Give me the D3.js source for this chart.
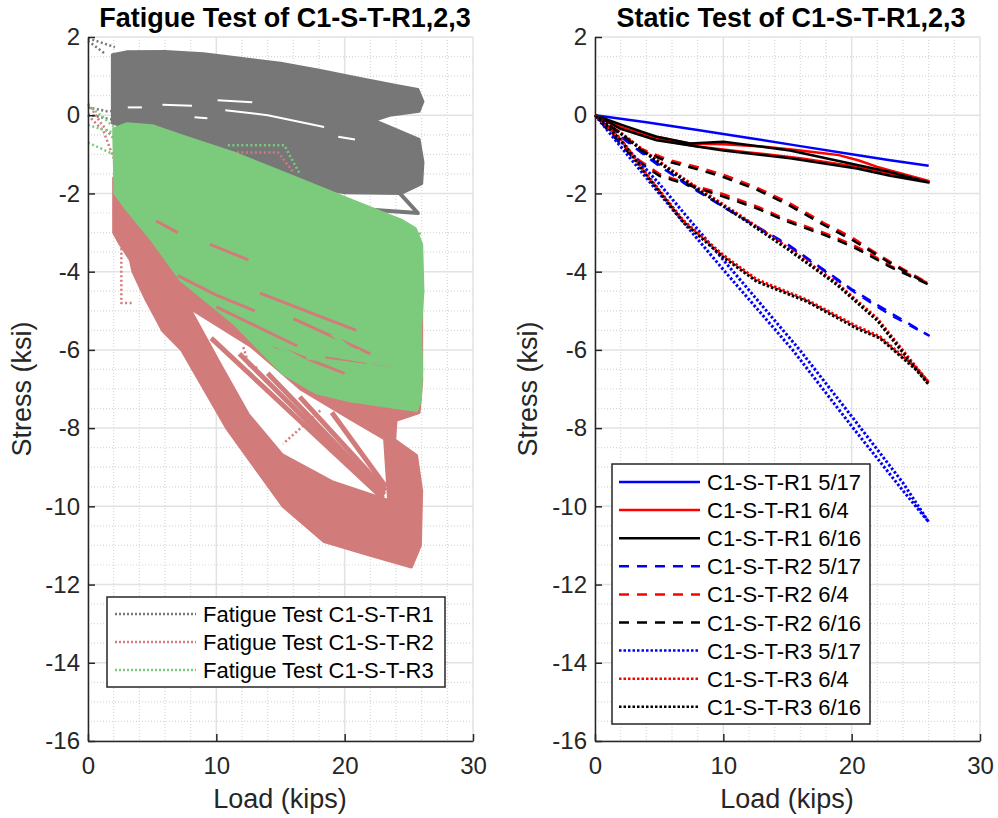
<!DOCTYPE html>
<html>
<head>
<meta charset="utf-8">
<script src="https://cdn.jsdelivr.net/npm/d3@7"></script>
<style>
  body { margin: 0; background: #fff; }
  text { font-family: "Liberation Sans", Arial, sans-serif; fill: #262626; }
</style>
</head>
<body>
<div id="chart"></div>
<script>

// tick values
var loadTicks = [0, 10, 20, 30];
var stressTicks = [2, 0, -2, -4, -6, -8, -10, -12, -14, -16];

// ---- fatigue test (left), envelopes of the dense cycle traces, [load, stress]
var r1Band = [[1.9,1.55],[3,1.62],[6,1.63],[9,1.57],[12,1.45],[15,1.33],[18,1.15],[21,0.95],[24,0.76],[25.7,0.66],
  [26.1,0.35],[25.8,0.1],[23.5,0.0],[22.3,-0.13],[23.5,-0.3],[25.8,-0.62],[26.1,-1.2],[26,-1.75],[24.4,-2.0],
  [20,-1.98],[16,-1.75],[12,-1.3],[8,-0.8],[4,-0.4],[1.9,-0.2],[1.9,0.2]];
var r1Tail = [[17.9,-2.32],[25.7,-2.5],[24.3,-2.0]];
var r1Streaks = [
  [[3.1,0.2],[4.2,0.2]],
  [[5.8,0.27],[8.1,0.24]],
  [[8.3,-0.05],[9.3,-0.08]],
  [[10.1,0.38],[12.8,0.33]],
  [[10.7,0.13],[14,0.0],[18.4,-0.3]],
  [[19.5,-0.55],[20.8,-0.62]]
];
var r1Strays = [
  [[0,1.97],[2.1,1.74]],
  [[0,1.9],[1.3,1.58]],
  [[0,0.2],[1.5,0.1],[3.1,0.13]],
  [[0,0.02],[2,-0.12]]
];

var r2Band = [[2,-1.6],[8,-2.2],[15,-3.0],[22,-3.8],[26,-4.3],[26,-6.8],[25.8,-7.6],[24,-7.8],[23.9,-8.3],[25.6,-8.7],
  [26,-9.6],[25.9,-11.0],[25.2,-11.55],[22,-11.25],[18.4,-10.9],[15.2,-10.0],[10.8,-8.0],[7.3,-6.0],[5.8,-5.5],
  [4.5,-4.7],[3.5,-4.0],[3.3,-3.7],[2.5,-3.3],[2,-3.0]];
var r2Gaps = [
  [[8.2,-5.03],[12.6,-5.93],[16.5,-7.03],[20.4,-7.8],[23,-8.3],[23.3,-9.8],[19.1,-9.34],[15.2,-8.65],[12.6,-7.63],[10.4,-6.35]],
  [[15.2,-5.6],[17.8,-6.0],[16.5,-6.15]]
];
var r2Lines = [
  [[9.6,-5.7],[23,-9.8]],
  [[11.8,-6.1],[23,-9.75]],
  [[14,-6.6],[23.1,-9.7]],
  [[16.5,-7.2],[23.2,-9.6]],
  [[19,-7.6],[23.2,-9.5]]
];
var r2Streaks = [
  [[5.3,-2.7],[7,-3.0]],
  [[9.5,-3.3],[12.5,-3.7]],
  [[7,-4.1],[10,-4.6],[13,-5.0]],
  [[10,-4.9],[16.3,-5.9]],
  [[13.4,-4.55],[20.9,-5.5]],
  [[16,-5.2],[22,-6.1]],
  [[18.5,-6.2],[24,-6.5]],
  [[14.5,-5.9],[20,-6.6]]
];
var r2Strays = [
  [[2.6,-3.4],[2.6,-4.8],[3.5,-4.8]],
  [[12.1,-5.93],[12.6,-6.45],[13.4,-6.45]],
  [[18.1,-7.55],[15.2,-8.4]],
  [[0,0.3],[1,-0.2],[2,-0.6]],
  [[0,0.0],[1.2,-0.4],[2,-1.1]],
  [[10.9,-0.95],[14.8,-0.95],[16,-1.45]]
];

var r3Band = [[2.0,-0.35],[3,-0.22],[5,-0.27],[7.5,-0.55],[11.4,-0.97],[15.3,-1.48],[20.5,-2.17],[24.4,-2.68],
  [25.5,-2.9],[26,-3.3],[26.1,-4.5],[25.9,-5.5],[26,-6.5],[25.9,-7.3],[25.6,-7.55],[20.4,-7.3],[17.8,-7.1],
  [15.2,-6.6],[11.3,-5.3],[7.2,-4.2],[5,-3.2],[3,-2.4],[2.1,-2.0]];
var r3Lines = [
  [[13,-5.6],[20.4,-6.9],[25.6,-7.5]],
  [[17,-6.2],[24,-6.5],[25.6,-7.5]],
  [[15,-6.3],[25.5,-7.4]],
  [[21,-6.0],[24.5,-7.3]],
  [[19,-5.6],[25.6,-7.3]]
];
var r3Strays = [
  [[0,0.25],[1,0.0],[2,-0.3]],
  [[0,-0.7],[1,-0.85],[2,-1.0]],
  [[0,-0.25],[2,-0.45]],
  [[10.9,-0.77],[15.3,-0.77],[16.5,-1.5]],
  [[23.1,-2.77],[25.4,-2.95],[26,-3.05]]
];

var fatigueNames = ["Fatigue Test C1-S-T-R1", "Fatigue Test C1-S-T-R2", "Fatigue Test C1-S-T-R3"];
var fatigueColors = ["#777777", "#d27b7b", "#7ccb7c"];

// ---- static test (right), loading then unloading branch
var r1_0517 = [[0,0],[4,-0.18],[8,-0.38],[12,-0.58],[16,-0.79],[20,-1.0],[23,-1.15],[26,-1.29]];
var r1_0604 = [[0,0],[1,-0.15],[2.2,-0.34],[4.8,-0.55],[7.4,-0.72],[10,-0.74],[13,-0.8],[15.5,-0.88],[17.8,-0.97],
  [19,-1.02],[20.5,-1.15],[22,-1.32],[24,-1.5],[26,-1.68],[23,-1.5],[20,-1.3],[16,-1.1],[12,-0.95],[8,-0.8],[4.8,-0.62],[2,-0.3],[0,0]];
var r1_0616 = [[0,0],[2.2,-0.26],[4.8,-0.55],[7.4,-0.72],[10,-0.68],[15.2,-0.9],[19.8,-1.23],[23,-1.45],[26,-1.72],
  [23,-1.55],[20.4,-1.36],[15.2,-1.1],[10,-0.9],[4.8,-0.64],[2,-0.35],[0,0]];
var r2_0517 = [[0,0],[1.5,-0.4],[3.5,-0.9],[7,-1.75],[10.5,-2.43],[15.2,-3.37],[20.4,-4.56],[23,-5.1],[26,-5.63],
  [23,-5.05],[20,-4.45],[15,-3.3],[10,-2.35],[5,-1.3],[2,-0.55],[0,0]];
var r2_0604 = [[0,0],[2,-0.45],[3.5,-0.85],[5.6,-1.13],[8,-1.33],[10,-1.52],[12.6,-1.85],[15,-2.22],[17.8,-2.75],
  [20,-3.12],[21.2,-3.38],[23,-3.75],[26,-4.3],[23,-3.85],[21.2,-3.5],[20,-3.3],[17.8,-3.0],[15,-2.68],[12.6,-2.33],
  [10,-2.02],[7.4,-1.77],[5,-1.5],[3,-1.05],[1,-0.35],[0,0]];
var r2_0616 = [[0,0],[2,-0.47],[3.5,-0.88],[5.6,-1.18],[8,-1.38],[10,-1.58],[12.6,-1.9],[15,-2.28],[17.8,-2.8],
  [20,-3.18],[21.2,-3.42],[23,-3.78],[26,-4.33],[23,-3.88],[21.2,-3.55],[20,-3.35],[17.8,-3.05],[15,-2.72],[12.6,-2.38],
  [10,-2.08],[7.4,-1.8],[5,-1.55],[3,-1.1],[1,-0.38],[0,0]];
var r3_0517 = [[0,0],[5,-2.0],[10,-3.95],[15.4,-6.0],[20,-7.95],[24,-9.6],[26,-10.4],
  [24,-9.4],[20,-7.7],[15.95,-6.0],[10,-3.7],[5,-1.75],[1,-0.3],[0,0]];
var r3_0604 = [[0,0],[2,-0.45],[4,-0.95],[7.4,-1.73],[11.8,-2.67],[15,-3.38],[18.8,-4.28],[22,-5.2],[25,-6.43],[26,-6.83],
  [25,-6.45],[22.2,-5.66],[20.4,-5.4],[16.5,-4.72],[12.6,-4.2],[10,-3.58],[6.85,-2.68],[4,-1.5],[2,-0.6],[0,0]];
var r3_0616 = [[0,0],[2,-0.47],[4,-0.98],[7.4,-1.77],[11.8,-2.71],[15,-3.42],[18.8,-4.32],[22,-5.25],[25,-6.48],[26,-6.88],
  [25,-6.5],[22.2,-5.7],[20.4,-5.45],[16.5,-4.76],[12.6,-4.25],[10,-3.63],[6.85,-2.72],[4,-1.53],[2,-0.63],[0,0]];

var staticNames = ["C1-S-T-R1 5/17", "C1-S-T-R1 6/4", "C1-S-T-R1 6/16",
                   "C1-S-T-R2 5/17", "C1-S-T-R2 6/4", "C1-S-T-R2 6/16",
                   "C1-S-T-R3 5/17", "C1-S-T-R3 6/4", "C1-S-T-R3 6/16"];
var staticData = [r1_0517, r1_0604, r1_0616, r2_0517, r2_0604, r2_0616, r3_0517, r3_0604, r3_0616];
var staticColors = ["#0000ff", "#ff0000", "#000000"];
var staticDash = [null, "10,8", "2.5,2"];
var staticWidth = [2.5, 2.5, 3];


var W = 998, H = 818;
var svg = d3.select("#chart").append("svg")
  .attr("width", W).attr("height", H);

var y = d3.scaleLinear().domain([-16, 2]).range([741, 37]);
var xL = d3.scaleLinear().domain([0, 30]).range([88, 473]);
var xR = d3.scaleLinear().domain([0, 30]).range([595, 980]);

// grid + titles for one panel
function drawFrame(x, title, titleX, ylabX, xlabX) {
  var g = svg.append("g");
  var minorX = d3.range(0, 30.01, 2).filter(function(v) { return v % 10 != 0; });
  var minorY = d3.range(-16, 2.01, 0.5).filter(function(v) { return v % 2 != 0; });

  g.selectAll(".mx").data(minorX).enter().append("line")
    .attr("x1", function(d) { return x(d); }).attr("x2", function(d) { return x(d); })
    .attr("y1", y(2)).attr("y2", y(-16))
    .attr("stroke", "#d8d8d8").attr("stroke-width", 1.2).attr("stroke-dasharray", "1,2");
  g.selectAll(".my").data(minorY).enter().append("line")
    .attr("y1", function(d) { return y(d); }).attr("y2", function(d) { return y(d); })
    .attr("x1", x(0)).attr("x2", x(30))
    .attr("stroke", "#d8d8d8").attr("stroke-width", 1.2).attr("stroke-dasharray", "1,2");
  g.selectAll(".gx").data(loadTicks).enter().append("line")
    .attr("x1", function(d) { return x(d); }).attr("x2", function(d) { return x(d); })
    .attr("y1", y(2)).attr("y2", y(-16))
    .attr("stroke", "#e2e2e2").attr("stroke-width", 1.5);
  g.selectAll(".gy").data(stressTicks).enter().append("line")
    .attr("y1", function(d) { return y(d); }).attr("y2", function(d) { return y(d); })
    .attr("x1", x(0)).attr("x2", x(30))
    .attr("stroke", "#e2e2e2").attr("stroke-width", 1.5);

  svg.append("text").attr("x", titleX).attr("y", 27).attr("text-anchor", "middle")
    .style("font-size", "27px").style("font-weight", "bold").style("fill", "#000").text(title);
  svg.append("text").attr("x", xlabX).attr("y", 808).attr("text-anchor", "middle")
    .style("font-size", "27px").text("Load (kips)");
  svg.append("text").attr("transform", "translate(" + ylabX + "," + y(-7) + ") rotate(-90)")
    .attr("text-anchor", "middle").style("font-size", "27px").text("Stress (ksi)");
  return g;
}

function drawAxes(x) {
  var ax = svg.append("g").attr("transform", "translate(0," + y(-16) + ")")
    .call(d3.axisBottom(x).tickValues(loadTicks).tickSizeInner(-7).tickSizeOuter(0).tickPadding(16)
      .tickFormat(function(d) { return String(d); }));
  var ay = svg.append("g").attr("transform", "translate(" + x(0) + ",0)")
    .call(d3.axisLeft(y).tickValues(stressTicks).tickSizeInner(-7).tickSizeOuter(0).tickPadding(8)
      .tickFormat(function(d) { return String(d); }));
  [ax, ay].forEach(function(a) {
    a.select(".domain").attr("stroke", "#262626").attr("stroke-width", 1.5);
    a.selectAll(".tick line").attr("stroke", "#262626").attr("stroke-width", 1.5);
    a.selectAll(".tick text").style("font-size", "24px").style("font-family", "'Liberation Sans', Arial, sans-serif")
      .attr("fill", "#262626");
  });
}

// ---------- left panel
drawFrame(xL, "Fatigue Test of C1-S-T-R1,2,3", 285, 31, 280);
var lineL = d3.line().x(function(d) { return xL(d[0]); }).y(function(d) { return y(d[1]); });
var pl = svg.append("g");

function band(pts, color) {
  pl.append("path").attr("d", lineL(pts) + "Z")
    .attr("fill", color).attr("stroke", color).attr("stroke-width", 3).attr("stroke-linejoin", "round");
}
function traces(list, color, width, dash) {
  pl.selectAll(null).data(list).enter().append("path")
    .attr("d", function(d) { return lineL(d); })
    .attr("fill", "none").attr("stroke", color).attr("stroke-width", width)
    .attr("stroke-dasharray", dash).attr("stroke-linejoin", "round");
}

// R1 (gray)
traces(r1Strays, fatigueColors[0], 2.5, "2,2.5");
band(r1Band, fatigueColors[0]);
traces([r1Tail], fatigueColors[0], 4, null);
traces(r1Streaks, "#ffffff", 2, null);
// R2 (red)
band(r2Band, fatigueColors[1]);
pl.selectAll(null).data(r2Gaps).enter().append("path")
  .attr("d", function(d) { return lineL(d) + "Z"; }).attr("fill", "#ffffff");
traces(r2Lines, fatigueColors[1], 5, null);
traces(r2Strays, fatigueColors[1], 2.5, "2,2.5");
// R3 (green)
band(r3Band, fatigueColors[2]);
traces(r2Streaks, fatigueColors[1], 3, null);
traces(r3Lines, fatigueColors[2], 3.5, null);
traces(r3Strays, fatigueColors[2], 2.5, "2,2.5");

drawAxes(xL);

// left legend
var lgL = svg.append("g");
lgL.append("rect").attr("x", 107).attr("y", 597).attr("width", 338).attr("height", 90)
  .attr("fill", "#fff").attr("stroke", "#262626").attr("stroke-width", 1.5);
fatigueNames.forEach(function(n, i) {
  var yy = 614 + i * 28;
  lgL.append("line").attr("x1", 115).attr("x2", 196).attr("y1", yy).attr("y2", yy)
    .attr("stroke", fatigueColors[i]).attr("stroke-width", 2.5).attr("stroke-dasharray", "2,2");
  lgL.append("text").attr("x", 203).attr("y", yy + 8).style("font-size", "22px").style("fill", "#000").text(n);
});

// ---------- right panel
drawFrame(xR, "Static Test of C1-S-T-R1,2,3", 791, 537, 787);
var lineR = d3.line().x(function(d) { return xR(d[0]); }).y(function(d) { return y(d[1]); });
var pr = svg.append("g");
staticData.forEach(function(pts, i) {
  var k = Math.floor(i / 3);
  pr.append("path").attr("d", lineR(pts))
    .attr("fill", "none").attr("stroke", staticColors[i % 3]).attr("stroke-width", staticWidth[k])
    .attr("stroke-dasharray", staticDash[k]).attr("stroke-linejoin", "round");
});
drawAxes(xR);

var lgR = svg.append("g");
lgR.append("rect").attr("x", 612).attr("y", 464).attr("width", 258).attr("height", 260)
  .attr("fill", "#fff").attr("stroke", "#262626").attr("stroke-width", 1.5);
staticNames.forEach(function(n, i) {
  var yy = 482 + i * 28.1;
  lgR.append("line").attr("x1", 619).attr("x2", 700).attr("y1", yy).attr("y2", yy)
    .attr("stroke", staticColors[i % 3]).attr("stroke-width", 2.5)
    .attr("stroke-dasharray", staticDash[Math.floor(i / 3)]);
  lgR.append("text").attr("x", 707).attr("y", yy + 8).style("font-size", "22px").style("fill", "#000").text(n);
});
</script>
</body>
</html>
